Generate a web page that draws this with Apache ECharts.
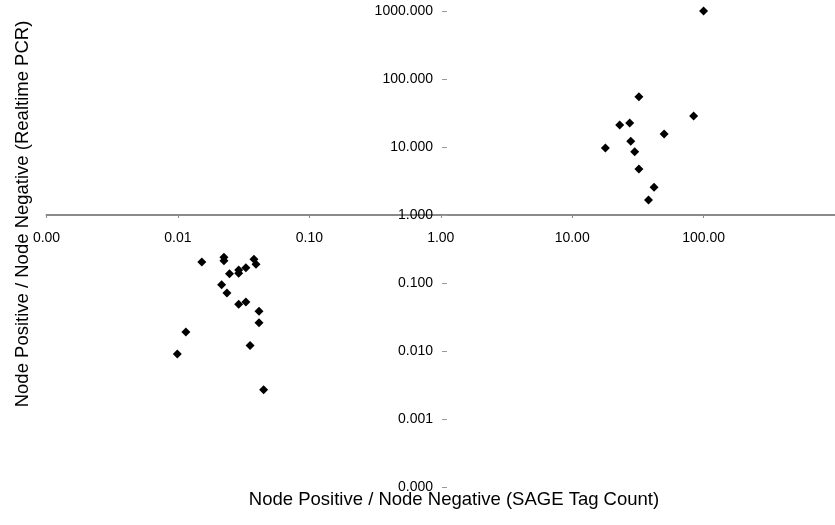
<!DOCTYPE html>
<html>
<head>
<meta charset="utf-8">
<script src="https://cdn.jsdelivr.net/npm/echarts@6/dist/echarts.min.js"></script>
<style>html,body{margin:0;padding:0;background:#fff}#c{width:835px;height:525px}</style>
</head>
<body>
<div id="c"></div>
<script>
// SAGE tag count ratio (x) vs realtime PCR ratio (y)
const sageRatio = [100, 32.2, 84, 23, 27.4, 50.1, 27.9, 17.9, 29.9, 32.2, 42, 38.1,
  0.0152, 0.0224, 0.0224, 0.0379, 0.0393, 0.0247, 0.029, 0.029, 0.0329, 0.0215, 0.0236,
  0.029, 0.0329, 0.0414, 0.0414, 0.0115, 0.0354, 0.00989, 0.0449];
const pcrRatio = [1000, 55, 28.6, 21.1, 22.5, 15.5, 12.1, 9.66, 8.53, 4.74, 2.55, 1.66,
  0.204, 0.239, 0.213, 0.223, 0.188, 0.137, 0.155, 0.139, 0.168, 0.0944, 0.0713,
  0.0487, 0.0526, 0.0384, 0.0261, 0.019, 0.012, 0.00904, 0.0027];
const xTitle = 'Node Positive / Node Negative (SAGE Tag Count)';
const yTitle = 'Node Positive / Node Negative (Realtime PCR)';
const xMin = 0.001, xMax = 1000, yMin = 0.0001, yMax = 1000;

const points = sageRatio.map((v, i) => [v, pcrRatio[i]]);
const chart = echarts.init(document.getElementById('c'), null, {renderer: 'canvas'});
const font = 'Liberation Sans, Arial, sans-serif';
chart.setOption({
  animation: false,
  backgroundColor: '#fff',
  grid: {left: 46.5, right: -13, top: 11, bottom: 38, containLabel: false},
  xAxis: {
    type: 'log', min: xMin, max: xMax, position: 'bottom', offset: -272,
    axisLine: {show: true, lineStyle: {color: '#8a8a8a', width: 2}},
    axisTick: {show: true, length: 3, lineStyle: {color: '#8a8a8a', width: 1}},
    splitLine: {show: false},
    axisLabel: {
      margin: 16, color: '#000', fontSize: 14, fontFamily: font, showMaxLabel: false,
      formatter: v => (v >= 999 ? '' : v.toFixed(2))
    }
  },
  yAxis: {
    type: 'log', min: yMin, max: yMax, position: 'left', offset: -400.5,
    axisLine: {show: false},
    axisTick: {show: true, length: 5, lineStyle: {color: '#999', width: 1}},
    splitLine: {show: false},
    axisLabel: {margin: 14, color: '#000', fontSize: 14, fontFamily: font,
      formatter: v => v.toFixed(3)}
  },
  series: [{
    type: 'scatter', data: points, symbol: 'diamond', symbolSize: 9,
    itemStyle: {color: '#000', opacity: 1}
  }],
  graphic: [
    {type: 'text', x: 454, y: 500, style: {text: xTitle, textAlign: 'center', textVerticalAlign: 'middle',
      font: '18.5px ' + font, fill: '#000'}},
    {type: 'text', x: 22.5, y: 214, rotation: Math.PI / 2, style: {text: yTitle, textAlign: 'center',
      textVerticalAlign: 'middle', font: '18.5px ' + font, fill: '#000'}}
  ]
});
</script>
</body>
</html>
